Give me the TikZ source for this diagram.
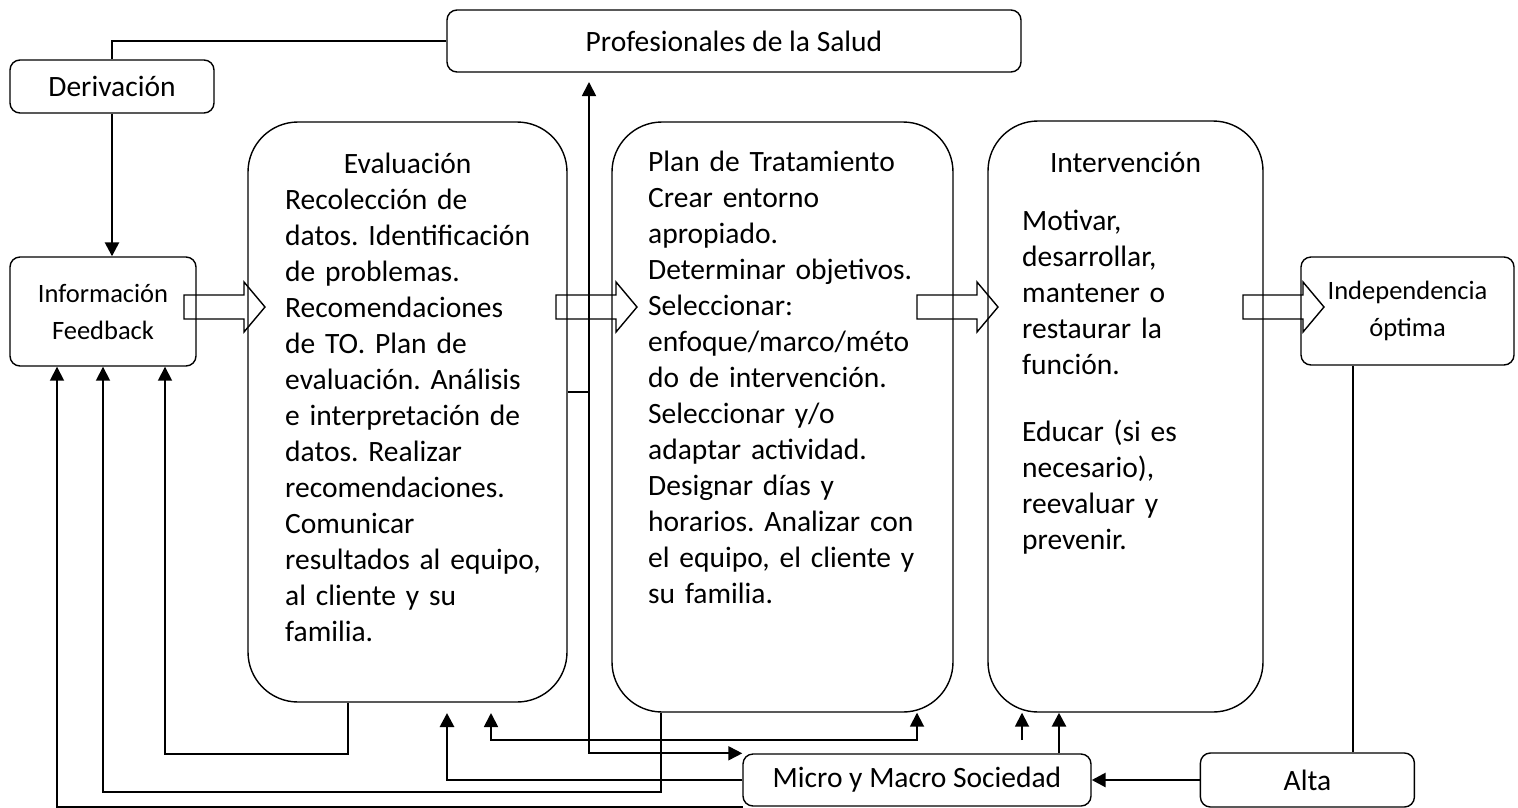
\documentclass[tikz,border=0pt]{standalone}
\usepackage{fontspec}
\setmainfont{Carlito}
\frenchspacing
\usetikzlibrary{arrows.meta}
\usetikzlibrary{positioning}
\tikzstyle{frame} = [
        rectangle, draw, rounded corners=10pt,
        line width=1.4pt, inner sep=0pt,
        font=\fontsize{29.5}{36}\selectfont
    ]
\tikzstyle{smallframe} = [frame, align=center, font=\fontsize{26.5}{37}\selectfont]
\tikzstyle{stage} = [rectangle, draw, rounded corners=50pt, line width=1.4pt]
\tikzstyle{stagetext} = [
        anchor=north west, inner sep=0pt,
        text width=300pt, align=left,
        font=\fontsize{29.5}{36}\selectfont
    ]
\tikzstyle{line} = [draw, line width=1.8pt, -{Triangle[length=14pt,width=14pt]}]
\tikzstyle{dline} = [draw, line width=1.8pt, {Triangle[length=14pt,width=14pt]}-{Triangle[length=14pt,width=14pt]}]
\tikzstyle{plain} = [draw, line width=1.8pt]
\tikzstyle{blk} = [draw, line width=1.4pt]

\begin{document}
\begin{tikzpicture}[x=1pt, y=-1pt]
    \useasboundingbox (0,0) rectangle (1518,807);

    \node [frame, minimum width=574pt, minimum height=62pt] (prof) at (734,41) {Profesionales de la Salud};
    \node [frame, minimum width=204pt, minimum height=53pt] (deriv) at (112,86.5) {Derivación};
    \node [smallframe, minimum width=186pt, minimum height=109pt] (info) at (103,311.5) {Información\\Feedback};
    \node [stage, minimum width=319pt, minimum height=580pt] (eval) at (407.5,412) {};
    \node [stage, minimum width=341pt, minimum height=590pt] (plan) at (782.5,417) {};
    \node [stage, minimum width=275pt, minimum height=591pt] (interv) at (1125.5,416.5) {};
    \node [smallframe, minimum width=213pt, minimum height=108pt] (indep) at (1407.5,311) {Independencia\\óptima};
    \node [frame, minimum width=348pt, minimum height=52pt] (micro) at (917,780) {Micro y Macro Sociedad};
    \node [frame, minimum width=214pt, minimum height=54pt, right=108pt of micro] (alta) {Alta};

    % texto de las etapas
    \node [stagetext] (evaltxt) at (285,147.8) {\strut\makebox[245pt]{Evaluación}\\Recolección de\\datos. Identificación\\de problemas.\\Recomendaciones\\de TO. Plan de\\evaluación. Análisis\\e interpretación de\\datos. Realizar\\recomendaciones.\\Comunicar\\resultados al equipo,\\al cliente y su\\familia.};
    \node [stagetext] (plantxt) at (648,145.8) {\strut Plan de Tratamiento\\Crear entorno\\apropiado.\\Determinar objetivos.\\Seleccionar:\\enfoque/marco/méto\\do de intervención.\\Seleccionar y/o\\adaptar actividad.\\Designar días y\\horarios. Analizar con\\el equipo, el cliente y\\su familia.};
    \node [anchor=base, font=\fontsize{29.5}{36}\selectfont] (intervtit) at (1125.5,172) {Intervención};
    \node [stagetext] (intervtxt) at (1022,204.8) {\strut Motivar,\\desarrollar,\\mantener o\\restaurar la\\función.\\[31pt]Educar (si es\\necesario),\\reevaluar y\\prevenir.};

    % flechas de bloque
    \foreach \bx in {184,556,917,1243}
        \draw [blk] (\bx,295) -- ++(60,0) -- ++(0,-13) -- ++(21,25) -- ++(-21,25) -- ++(0,-13) -- ++(-60,0) -- cycle;

    \coordinate (pv) at (589,82);
    \coordinate (tick) at (589,392);
    \coordinate (e1) at (348,0);
    \coordinate (b3) at (165,754);
    \coordinate (p1) at (661,0);
    \coordinate (b2) at (103,792);
    \coordinate (x57) at (57,0);
    \coordinate (b4) at (447,713);
    \coordinate (b5) at (491,713);
    \coordinate (b6) at (917,740);
    \coordinate (b7) at (1022,740);
    \coordinate (x1059) at (1059,0);
    \coordinate (x1353) at (1353,0);
    \coordinate (bot) at (743,807);

    \path [plain] (deriv.north) |- (prof.west);
    \path [line, line width=2.6pt] (deriv.south) -- (info.north -| deriv.south);
    \path [dline] (pv) |- (micro.north west);
    \path [plain] (eval.east |- tick) -- (tick);
    \path [line] (eval.south -| e1) |- (b3) -- (info.south -| b3);
    \path [line] (plan.south -| p1) |- (b2) -- (info.south -| b2);
    \path [line] (bot) -| (info.south -| x57);
    \path [line, line width=2.8pt] (micro.west) -| (b4);
    \path [dline] (b5) |- (b6) -- (plan.south -| b6);
    \path [line] (b7) -- (interv.south -| b7);
    \path [line, line width=2.8pt] (micro.north -| x1059) -- (interv.south -| x1059);
    \path [line, line width=2.8pt] (alta) -- (micro);
    \path [plain] (indep.south -| x1353) -- (alta.north -| x1353);
\end{tikzpicture}
\end{document}
